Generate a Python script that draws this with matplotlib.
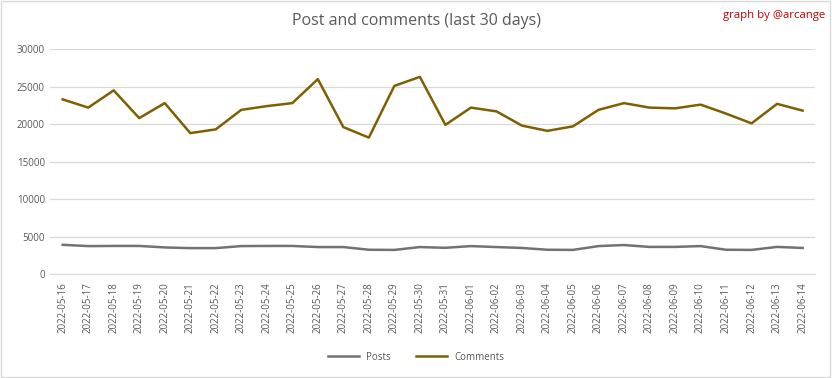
import numpy as np
import pandas as pd
import matplotlib
matplotlib.use("Agg")
import matplotlib.pyplot as plt

dates = pd.date_range("2022-05-16", "2022-06-14").strftime("%Y-%m-%d").tolist()
posts = [3900, 3730, 3750, 3750, 3550, 3460, 3460, 3730, 3750, 3750,
         3600, 3600, 3240, 3220, 3600, 3500, 3730, 3600, 3480, 3240,
         3220, 3730, 3870, 3620, 3620, 3730, 3240, 3220, 3620, 3480]
comments = [23300, 22200, 24500, 20800, 22800, 18800, 19300, 21900, 22400, 22800,
            26000, 19600, 18200, 25100, 26300, 19900, 22200, 21700, 19800, 19100,
            19700, 21900, 22800, 22200, 22100, 22600, 21400, 20100, 22700, 21800]

plt.rcParams['font.family'] = ['Open Sans', 'DejaVu Sans']
txt = '#595959'

fig = plt.figure(figsize=(8.32, 3.78), dpi=100)
ax = fig.add_axes([0.060, 0.275, 0.920, 0.595])
x = np.arange(len(dates))
ax.plot(x, posts, color='#767171', lw=1.8, label='Posts')
ax.plot(x, comments, color='#7F6000', lw=1.8, label='Comments')

ax.set_xlim(-0.5, len(dates) - 0.5)
ax.set_ylim(0, 30000)
ax.set_yticks(np.arange(0, 30001, 5000))
ax.set_xticks(x)
ax.set_xticklabels(dates, rotation=90)
ax.tick_params(axis='both', length=0, labelsize=7, colors=txt)
ax.tick_params(axis='x', pad=6)
ax.grid(axis='y', color='#D9D9D9', lw=0.9)
ax.set_axisbelow(True)
for s in ['top', 'right', 'left']:
    ax.spines[s].set_visible(False)
ax.spines['bottom'].set_color('#D9D9D9')

fig.text(0.5, 0.945, "Post and comments (last 30 days)", ha='center', va='center',
         fontsize=11.5, color=txt)
fig.text(0.992, 0.96, "graph by @arcange", ha='right', va='center',
         fontsize=8.2, color='#C00000')
fig.legend(loc='center', bbox_to_anchor=(0.5, 0.055), ncol=2, frameon=False,
           fontsize=7, labelcolor=txt, handlelength=3.2, columnspacing=2.5)

fig.patches.append(plt.Rectangle((0.001, 0.002), 0.997, 0.995, transform=fig.transFigure,
                                 fill=False, edgecolor='#D9D9D9', lw=1))
fig.savefig("out.png", dpi=100)
